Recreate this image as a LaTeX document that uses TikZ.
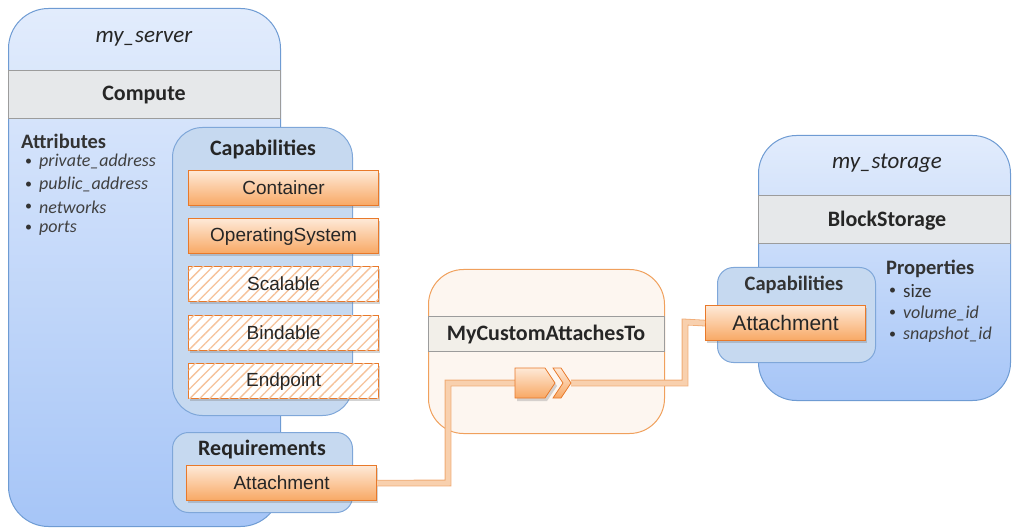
\documentclass[tikz,border=0pt]{standalone}
\usepackage{fontspec}
\setmainfont{Carlito}
\newfontfamily\arialf{Liberation Sans}
\usetikzlibrary{patterns.meta,shadows}
\definecolor{bluebd}{HTML}{6E9BD3}
\definecolor{bluetop}{HTML}{E2ECFC}
\definecolor{bluebot}{HTML}{A6C5F7}
\definecolor{panel}{HTML}{C6D9F0}
\definecolor{panelbd}{HTML}{7FA7D9}
\definecolor{hdr}{HTML}{E6E8EA}
\definecolor{hdrbd}{HTML}{9C9C9C}
\definecolor{orbd}{HTML}{E8792A}
\definecolor{ortop}{HTML}{FEE9D7}
\definecolor{orbot}{HTML}{F8A864}
\definecolor{midfill}{HTML}{FDF6F0}
\definecolor{midhdr}{HTML}{F2EFE9}
\definecolor{midbd}{HTML}{F0A05C}
\definecolor{conn}{HTML}{F8D0AE}
\definecolor{connbd}{HTML}{F0AB74}
\definecolor{hatch}{HTML}{F6C29A}
\tikzset{
  outerbox/.style={draw=bluebd, line width=1pt, top color=bluetop, bottom color=bluebot, anchor=north west, inner sep=0pt},
  hdrbox/.style={draw=hdrbd, line width=0.8pt, fill=hdr, anchor=north west, inner sep=0pt},
  panelbox/.style={draw=panelbd, line width=1pt, fill=panel, anchor=north west, inner sep=0pt},
  obox/.style={draw=orbd, line width=1.2pt, top color=ortop, bottom color=orbot, anchor=north west, inner sep=0pt,
     font=\arialf\fontsize{19}{21}\selectfont, text=black!85,
     drop shadow={shadow xshift=1.5pt, shadow yshift=-2.5pt, opacity=0.35, fill=black!50}},
  hbox/.style={draw=orbd, line width=1.2pt, fill=white, anchor=north west, inner sep=0pt,
     font=\arialf\fontsize{19}{21}\selectfont, text=black!85,
     drop shadow={shadow xshift=1.5pt, shadow yshift=-2.5pt, opacity=0.35, fill=black!50},
     postaction={pattern={Lines[angle=45,distance=7pt,line width=1.3pt]}, pattern color=hatch}},
  ttl/.style={font=\fontsize{23}{25}\selectfont\itshape, text=black!85},
  hd/.style={font=\fontsize{22}{24}\selectfont\bfseries, text=black!85},
  sub/.style={font=\fontsize{20.5}{22}\selectfont\bfseries, text=black!80},
  item/.style={font=\fontsize{18}{20}\selectfont\itshape, text=black!75, anchor=west, inner sep=0pt},
  bul/.style={font=\fontsize{14}{16}\selectfont, text=black!80, anchor=west, inner sep=0pt},
  connector/.style={draw=connbd, line width=0.8pt, double=conn, double distance=5pt},
}
\begin{document}
\begin{tikzpicture}[x=1pt,y=-1pt]
\useasboundingbox (0,0) rectangle (1012,529);
% ---- my_server ----
\node[outerbox, rounded corners=40pt, minimum width=272pt, minimum height=518pt] (server) at (8,8) {};
\node[ttl] (servername) at (144,39) {my\_server};
\node[hdrbox, minimum width=272pt, minimum height=48pt] (compute) at (8,70) {};
\node[hd] (computelbl) at (144,95) {Compute};
\node[sub, anchor=west, inner sep=0pt] (attr) at (21,141) {Attributes};
\node[bul] (b1) at (25,162) {\textbullet}; \node[item] (a1) at (39,162) {private\_address};
\node[bul] (b2) at (25,185) {\textbullet}; \node[item] (a2) at (39,185) {public\_address};
\node[bul] (b3) at (25,207) {\textbullet}; \node[item] (a3) at (39,207) {networks};
\node[bul] (b4) at (25,228) {\textbullet}; \node[item] (a4) at (39,228) {ports};
% capabilities panel
\node[panelbox, rounded corners=30pt, minimum width=180pt, minimum height=288pt] (cappanel) at (172,127) {};
\node[hd] (caplbl) at (263,149) {Capabilities};
\node[obox, minimum width=190pt, minimum height=35pt] (container) at (188,170) {Container};
\node[obox, minimum width=190pt, minimum height=35pt] (os) at (188,218) {OperatingSystem};
\node[hbox, minimum width=190pt, minimum height=35pt] (scalable) at (188,266) {Scalable};
\node[hbox, minimum width=190pt, minimum height=35pt] (bindable) at (188,315) {Bindable};
\node[hbox, minimum width=190pt, minimum height=35pt] (endpoint) at (188,363) {Endpoint};
% requirements panel
\node[panelbox, rounded corners=16pt, minimum width=180pt, minimum height=80pt] (reqpanel) at (172,432) {};
\node[hd] (reqlbl) at (262,450) {Requirements};
\node[obox, minimum width=190pt, minimum height=35pt] (reqatt) at (186,465) {Attachment};
% ---- middle relationship ----
\node[draw=midbd, line width=1pt, fill=midfill, rounded corners=35pt, anchor=north west, minimum width=236pt, minimum height=164pt, inner sep=0pt] (rel) at (428,269) {};
\node[draw=hdrbd, line width=0.8pt, fill=midhdr, anchor=north west, minimum width=236pt, minimum height=35pt, inner sep=0pt] (relhdr) at (428,316) {};
\node[font=\fontsize{22}{24}\selectfont\bfseries, text=black!85] (rellbl) at (546,335) {MyCustomAttachesTo};
% ---- my_storage ----
\node[outerbox, rounded corners=38pt, minimum width=252pt, minimum height=265pt] (storage) at (758,135) {};
\node[ttl] (storname) at (887,163) {my\_storage};
\node[hdrbox, minimum width=252pt, minimum height=48pt] (blockst) at (758,195) {};
\node[hd] (blocklbl) at (887,221) {BlockStorage};
\node[sub, anchor=west, inner sep=0pt] (props) at (886,269) {Properties};
\node[bul] (p1b) at (889,291) {\textbullet}; \node[bul, font=\fontsize{19}{21}\selectfont] (p1) at (903,291) {size};
\node[bul] (p2b) at (889,313) {\textbullet}; \node[item] (p2) at (903,313) {volume\_id};
\node[bul] (p3b) at (889,335) {\textbullet}; \node[item] (p3) at (903,335) {snapshot\_id};
\node[panelbox, rounded corners=16pt, minimum width=158pt, minimum height=95pt] (storcap) at (717,267) {};
\node[sub] (storcaplbl) at (794,285) {Capabilities};
\node[obox, minimum width=160pt, minimum height=35pt, font=\arialf\fontsize{21}{23}\selectfont] (storatt) at (705,305) {Attachment};
% ---- connector ----
\coordinate (pentW) at (515,383);
\coordinate (chevE) at (571,383);
\coordinate (c1) at (448,483);
\coordinate (c2) at (448,383);
\coordinate (c3) at (685,383);
\coordinate (c4) at (685,322);
\draw[connector] (reqatt.east) -- (c1) -- (c2) -- (pentW);
\draw[connector] (chevE) -- (c3) -- (c4) -- (storatt.west);
\fill[black!40, opacity=0.4] (517,371) -- (547,371) -- (557,386) -- (547,401) -- (517,401) -- cycle;
\draw[draw=orbd, line width=0.8pt, top color=ortop, bottom color=orbot] (515,368) -- (545,368) -- (555,383) -- (545,398) -- (515,398) -- cycle;
\draw[draw=orbd, line width=0.8pt, top color=ortop, bottom color=orbot] (553,368) -- (561,368) -- (571,383) -- (561,398) -- (553,398) -- (563,383) -- cycle;
\end{tikzpicture}
\end{document}
